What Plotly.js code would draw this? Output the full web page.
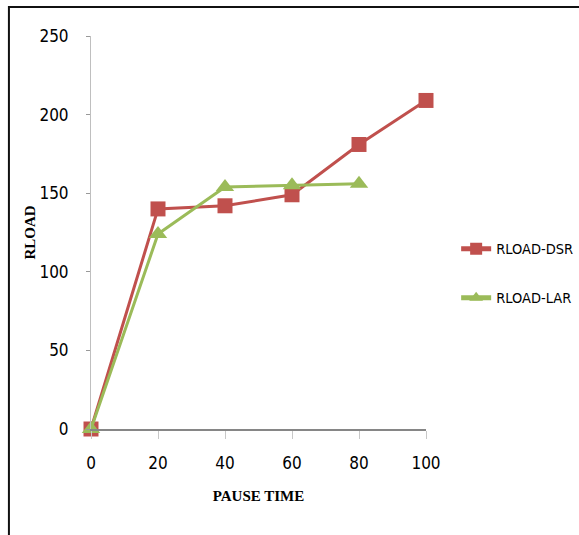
<!DOCTYPE html>
<html>
<head>
<meta charset="utf-8">
<script src="https://cdn.plot.ly/plotly-3.0.1.min.js"></script>
<style>html,body{margin:0;padding:0;background:#fff;}#chart{width:579px;height:535px;}</style>
</head>
<body>
<div id="chart"></div>
<script>
const pauseTime = [0, 20, 40, 60, 80, 100];
const dsrValues = [0, 140, 142, 149, 181, 209];
const larPause = [0, 20, 40, 60, 80];
const larValues = [0, 124, 154, 155, 156];
const xTicks = [0, 20, 40, 60, 80, 100];
const yTicks = [0, 50, 100, 150, 200, 250];

const narrow = '"Liberation Sans Narrow", "DejaVu Sans Condensed", "Arial Narrow", sans-serif';
const tickFont = {family: narrow, size: 17, color: '#000'};
const titleFont = {family: '"Liberation Serif", "Times New Roman", serif', size: 15, color: '#000', weight: 'bold'};

const traces = [
  {x: pauseTime, y: dsrValues, name: 'RLOAD-DSR', legendgroup: 'a', mode: 'lines+markers', cliponaxis: false,
   line: {color: '#C0504D', width: 3}, marker: {symbol: 'square', size: 15, color: '#C0504D'}},
  {x: larPause, y: larValues, name: 'RLOAD-LAR', legendgroup: 'b', mode: 'lines+markers', cliponaxis: false,
   line: {color: '#9BBB59', width: 3}, marker: {symbol: 'triangle-up', size: 16, color: '#9BBB59'}}
];

const layout = {
  width: 579, height: 535,
  margin: {l: 91, r: 153, t: 36, b: 106, autoexpand: false},
  paper_bgcolor: '#fff', plot_bgcolor: '#fff',
  showlegend: true,
  legend: {x: 1.09, y: 0.396, xanchor: 'left', yanchor: 'middle', font: {family: narrow, size: 14.5, color: '#000'},
           tracegroupgap: 27, itemsizing: 'constant', bgcolor: 'rgba(0,0,0,0)'},
  xaxis: {range: [0, 100], tickvals: xTicks, ticktext: xTicks.map(String), showgrid: false, zeroline: false,
          showline: true, linecolor: '#868686', linewidth: 2, ticks: 'outside', ticklen: 8, tickcolor: '#C8C8C8', tickwidth: 1,
          tickfont: tickFont, ticklabelstandoff: 10,
          title: {text: 'PAUSE TIME', font: titleFont, standoff: 18}},
  yaxis: {range: [0, 250], tickvals: yTicks, ticktext: yTicks.map(String), showgrid: false, zeroline: false,
          showline: true, linecolor: '#BFBFBF', linewidth: 1, ticks: 'outside', ticklen: 4, tickcolor: '#999', tickwidth: 1,
          tickfont: tickFont, ticklabelstandoff: 14,
          title: {text: 'RLOAD', font: titleFont, standoff: 0}},
  shapes: [{type: 'rect', xref: 'paper', yref: 'paper', x0: -0.245, x1: 2, y0: -1, y1: 1.074,
            line: {color: '#111', width: 2}, fillcolor: 'rgba(0,0,0,0)', layer: 'below'}]
};

Plotly.newPlot('chart', traces, layout, {staticPlot: true, displayModeBar: false});
</script>
</body>
</html>
